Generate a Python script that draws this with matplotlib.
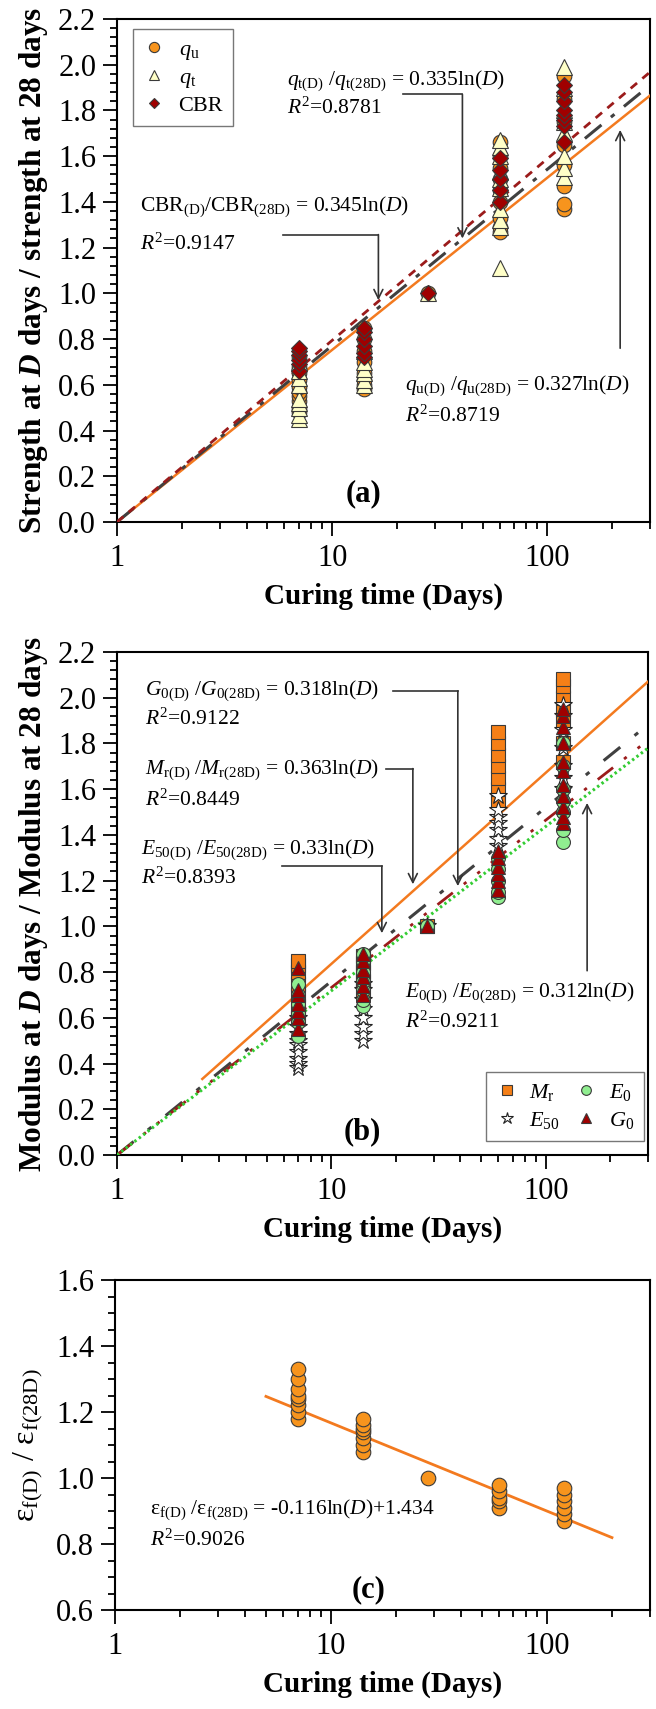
import numpy as np
import matplotlib.pyplot as plt
from matplotlib.ticker import FixedLocator, LogLocator, MultipleLocator, NullFormatter, FormatStrFormatter

plt.rcParams.update({
    'font.family': ['Liberation Serif', 'DejaVu Serif'],
    'mathtext.fontset': 'custom',
    'mathtext.rm': 'Liberation Serif',
    'mathtext.it': 'Liberation Serif:italic',
    'mathtext.bf': 'Liberation Serif:bold',
    'mathtext.bfit': 'Liberation Serif:italic:bold',
})

# ---- data ----
DAYS = [7, 14, 28, 60, 120]

# (a) strength ratios
qu = {7: [0.48, 0.50, 0.53, 0.55, 0.57, 0.59, 0.62, 0.65, 0.68, 0.72],
      14: [0.58, 0.60, 0.62, 0.65, 0.70, 0.75, 0.80, 0.85],
      28: [1.0],
      60: [1.27, 1.29, 1.33, 1.40, 1.45, 1.50, 1.55, 1.60, 1.66],
      120: [1.37, 1.39, 1.47, 1.56, 1.65, 1.75, 1.85, 1.95]}
qt = {7: [0.45, 0.47, 0.50, 0.52, 0.54, 0.60, 0.63, 0.66, 0.70],
      14: [0.60, 0.62, 0.65, 0.67, 0.70, 0.75],
      28: [1.0],
      60: [1.11, 1.29, 1.32, 1.37, 1.46, 1.50, 1.53, 1.60, 1.64, 1.67],
      120: [1.51, 1.55, 1.60, 1.70, 1.75, 1.80, 1.90, 1.99]}
cbr = {7: [0.66, 0.69, 0.71, 0.73, 0.75, 0.76],
       14: [0.72, 0.74, 0.77, 0.80, 0.83, 0.85],
       28: [1.0],
       60: [1.40, 1.45, 1.50, 1.54, 1.59],
       120: [1.66, 1.73, 1.76, 1.78, 1.80, 1.84, 1.88, 1.91]}

# (b) modulus ratios
mr = {7: [0.60, 0.65, 0.70, 0.75, 0.80, 0.83, 0.85],
      14: [0.72, 0.76, 0.80, 0.84, 0.87],
      28: [1.0],
      60: [1.55, 1.60, 1.65, 1.70, 1.75, 1.80, 1.85],
      120: [1.72, 1.80, 1.90, 1.95, 2.00, 2.05, 2.08]}
e50 = {7: [0.38, 0.40, 0.42, 0.45, 0.48, 0.50, 0.53, 0.56, 0.60],
       14: [0.50, 0.53, 0.56, 0.60, 0.64, 0.68, 0.72, 0.75],
       28: [1.0],
       60: [1.35, 1.38, 1.42, 1.45, 1.48, 1.51, 1.57],
       120: [1.60, 1.65, 1.70, 1.78, 1.86, 1.92, 1.97]}
e0 = {7: [0.52, 0.58, 0.62, 0.66, 0.70, 0.75],
      14: [0.65, 0.68, 0.72, 0.76, 0.80, 0.85, 0.88],
      28: [1.0],
      60: [1.13, 1.15, 1.20, 1.25, 1.30],
      120: [1.37, 1.42, 1.50, 1.55, 1.60, 1.70, 1.80]}
g0 = {7: [0.55, 0.60, 0.63, 0.66, 0.70, 0.72, 0.82],
      14: [0.70, 0.74, 0.78, 0.81, 0.85, 0.88],
      28: [1.0],
      60: [1.16, 1.20, 1.23, 1.26, 1.30, 1.33],
      120: [1.45, 1.48, 1.52, 1.57, 1.62, 1.68, 1.72, 1.80, 1.87, 1.92, 1.95]}

# (c) failure strain ratio
ef = {7: [1.18, 1.20, 1.22, 1.24, 1.25, 1.27, 1.30, 1.33],
      14: [1.08, 1.10, 1.12, 1.14, 1.15, 1.16, 1.18],
      28: [1.0],
      60: [0.91, 0.93, 0.94, 0.96, 0.98],
      120: [0.87, 0.89, 0.91, 0.93, 0.95, 0.97]}

# fitted slopes / ranges
K_QU, K_QT, K_CBR = 0.327, 0.335, 0.345
K_MR, K_E50, K_G0, K_E0 = 0.363, 0.33, 0.318, 0.312
EF_A, EF_B = -0.116, 1.434
FIT_A = (1, 300)
FIT_MR = (2.5, 300)
FIT_C = (5, 200)

ORANGE = '#F7941D'
ORANGE_LINE = '#F37A1F'
DARKRED = '#A00000'
EDGE = '#3a3a3a'
ARROW = '#333333'
TICK_FS = 22
NOTE_FS = 15.5
LEG_FS = 16


def flat(d):
    xs, ys = [], []
    for k in DAYS:
        xs += [k] * len(d[k])
        ys += d[k]
    return xs, ys


def style_axis(ax, ylo, yhi, minor):
    ax.set_xscale('log')
    ax.set_xlim(1, 300)
    ax.set_ylim(ylo, yhi)
    ax.xaxis.set_major_locator(FixedLocator([1, 10, 100]))
    ax.set_xticklabels(['1', '10', '100'])
    ax.xaxis.set_minor_locator(LogLocator(base=10, subs=np.arange(2, 10)))
    ax.xaxis.set_minor_formatter(NullFormatter())
    ax.yaxis.set_major_locator(MultipleLocator(0.2))
    ax.yaxis.set_minor_locator(MultipleLocator(minor))
    ax.yaxis.set_major_formatter(FormatStrFormatter('%.1f'))
    ax.tick_params(which='both', direction='out', top=False, right=False,
                   labelsize=TICK_FS, width=1.3)
    ax.tick_params(which='major', length=10)
    ax.tick_params(which='minor', length=5)
    ax.tick_params(axis='x', which='major', pad=6)
    ax.tick_params(axis='y', which='major', pad=5)
    for s in ax.spines.values():
        s.set_linewidth(1.5)
    ax.set_xlabel('Curing time (Days)', fontsize=21, fontweight='bold', labelpad=7)


def note(ax, x, y1, y2, eq, r2, fs=NOTE_FS):
    ax.text(x, y1, eq, ha='left', va='center', fontsize=fs)
    ax.text(x, y2, r2, ha='left', va='center', fontsize=fs)


def bent_arrow(ax, pts):
    xs = [p[0] for p in pts[:-1]]
    ys = [p[1] for p in pts[:-1]]
    if len(xs) > 1:
        ax.plot(xs, ys, color=ARROW, lw=1.2, zorder=5)
    ax.annotate('', xy=pts[-1], xytext=pts[-2],
                arrowprops=dict(arrowstyle='->', color=ARROW, lw=1.2,
                                shrinkA=0, shrinkB=0, mutation_scale=16), zorder=5)


fig = plt.figure(figsize=(6.56, 17.09), dpi=100)
W, H = 656, 1709
ax_a = fig.add_axes([117 / W, 1 - 522 / H, 533 / W, 503 / H])
ax_b = fig.add_axes([117 / W, 1 - 1155 / H, 531 / W, 503 / H])
ax_c = fig.add_axes([115 / W, 1 - 1610 / H, 535 / W, 330 / H])

# ---------- (a) ----------
ax = ax_a
d = np.geomspace(*FIT_A, 200)
ax.plot(d, K_QU * np.log(d), color=ORANGE_LINE, lw=1.8, zorder=3)
ax.plot(d, K_QT * np.log(d), color='#404040', lw=2.2, ls=(0, (7, 4, 1.5, 4)), zorder=3)
ax.plot(d, K_CBR * np.log(d), color='#9B1B1B', lw=2.0, ls=(0, (3, 2.5)), zorder=3)
x, y = flat(qu)
ax.plot(x, y, 'o', ms=10.5, mfc=ORANGE, mec=EDGE, mew=0.8, ls='none', zorder=4, label='$q_\\mathrm{u}$')
x, y = flat(qt)
ax.plot(x, y, '^', ms=11, mfc='#FFFFC8', mec=EDGE, mew=0.8, ls='none', zorder=4, label='$q_\\mathrm{t}$')
x, y = flat(cbr)
ax.plot(x, y, 'D', ms=8, mfc=DARKRED, mec=EDGE, mew=0.8, ls='none', zorder=4, label='CBR')
style_axis(ax, 0, 2.2, 0.04)
ax.set_ylabel(r'Strength at $\mathbfit{D}$ days / strength at 28 days',
              fontsize=22.5, fontweight='bold', labelpad=6)
ax.legend(loc='upper left', bbox_to_anchor=(0.03, 0.98), fontsize=LEG_FS, markerscale=0.7,
          frameon=True, fancybox=False, edgecolor='#555555', handletextpad=0.6,
          labelspacing=0.25, borderpad=0.45, handlelength=1.0, borderaxespad=0)
note(ax, 6.2, 1.93, 1.81, r'$q_{\mathrm{t(D)}}$ /$q_{\mathrm{t(28D)}}$ = 0.335ln($D$)', r'$R^2$=0.8781')
bent_arrow(ax, [(21.4, 1.87), (40.3, 1.87), (40.3, 1.24)])
note(ax, 1.28, 1.378, 1.213, r'CBR$_{\mathrm{(D)}}$/CBR$_{\mathrm{(28D)}}$ = 0.345ln($D$)', r'$R^2$=0.9147')
bent_arrow(ax, [(5.93, 1.257), (16.4, 1.257), (16.4, 0.97)])
note(ax, 21.9, 0.595, 0.462, r'$q_{\mathrm{u(D)}}$ /$q_{\mathrm{u(28D)}}$ = 0.327ln($D$)', r'$R^2$=0.8719')
bent_arrow(ax, [(218, 0.76), (218, 1.715)])
ax.text(14, 0.125, '(a)', ha='center', va='center', fontsize=22, fontweight='bold')

# ---------- (b) ----------
ax = ax_b
d = np.geomspace(*FIT_MR, 200)
ax.plot(d, K_MR * np.log(d), color=ORANGE_LINE, lw=1.8, zorder=3)
d = np.geomspace(*FIT_A, 200)
ax.plot(d, K_E50 * np.log(d), color='#404040', lw=2.2, ls=(0, (7, 6, 1.5, 6)), zorder=3)
ax.plot(d, K_G0 * np.log(d), color='#9B1B1B', lw=2.0, ls=(0, (7, 5, 1.2, 5, 1.2, 5)), zorder=3)
ax.plot(d, K_E0 * np.log(d), color='#33CC33', lw=2.2, ls=(0, (0.8, 1.0)), zorder=3)
x, y = flat(mr)
h_mr, = ax.plot(x, y, 's', ms=9.5, mfc='#F57F17', mec=EDGE, mew=0.8, ls='none', zorder=4, label='$M_\\mathrm{r}$')
x, y = flat(e50)
h_e50, = ax.plot(x, y, '*', ms=13, mfc='white', mec='#222222', mew=0.8, ls='none', zorder=4, label='$E_{50}$')
x, y = flat(e0)
h_e0, = ax.plot(x, y, 'o', ms=10, mfc='#90EE90', mec=EDGE, mew=0.8, ls='none', zorder=4, label='$E_0$')
x, y = flat(g0)
h_g0, = ax.plot(x, y, '^', ms=9.5, mfc=DARKRED, mec=EDGE, mew=0.8, ls='none', zorder=4, label='$G_0$')
style_axis(ax, 0, 2.2, 0.04)
ax.set_ylabel(r'Modulus at $\mathbfit{D}$ days / Modulus at 28 days',
              fontsize=22.5, fontweight='bold', labelpad=6)
ax.legend(handles=[h_mr, h_e50, h_e0, h_g0], ncol=2, loc='lower right',
          bbox_to_anchor=(0.992, 0.028), fontsize=LEG_FS, markerscale=0.7,
          frameon=True, fancybox=False, edgecolor='#555555', handletextpad=0.5,
          labelspacing=0.3, borderpad=0.45, handlelength=1.0, columnspacing=0.7,
          borderaxespad=0)
note(ax, 1.35, 2.033, 1.906, r'$G_{0\mathrm{(D)}}$ /$G_{0\mathrm{(28D)}}$ = 0.318ln($D$)', r'$R^2$=0.9122')
bent_arrow(ax, [(19.3, 2.03), (38.9, 2.03), (38.9, 1.176)])
note(ax, 1.35, 1.684, 1.55, r'$M_{\mathrm{r(D)}}$ /$M_{\mathrm{r(28D)}}$ = 0.363ln($D$)', r'$R^2$=0.8449')
bent_arrow(ax, [(18.0, 1.69), (24.0, 1.69), (24.0, 1.184)])
note(ax, 1.3, 1.335, 1.21, r'$E_{50\mathrm{(D)}}$ /$E_{50\mathrm{(28D)}}$ = 0.33ln($D$)', r'$R^2$=0.8393')
bent_arrow(ax, [(5.9, 1.264), (17.2, 1.264), (17.2, 0.97)])
note(ax, 22, 0.71, 0.581, r'$E_{0\mathrm{(D)}}$ /$E_{0\mathrm{(28D)}}$ = 0.312ln($D$)', r'$R^2$=0.9211')
bent_arrow(ax, [(156, 0.806), (156, 1.54)])
ax.text(14, 0.1, '(b)', ha='center', va='center', fontsize=22, fontweight='bold')

# ---------- (c) ----------
ax = ax_c
d = np.geomspace(*FIT_C, 200)
ax.plot(d, EF_A * np.log(d) + EF_B, color=ORANGE_LINE, lw=2.0, zorder=3)
x, y = flat(ef)
ax.plot(x, y, 'o', ms=10.5, mfc=ORANGE, mec=EDGE, mew=0.8, ls='none', zorder=4)
style_axis(ax, 0.6, 1.6, 0.05)
ax.set_ylabel(r'$\mathrm{ε}_{\mathrm{f(D)}}$ / $\mathrm{ε}_{\mathrm{f(28D)}}$', fontsize=23, labelpad=8)
note(ax, 1.45, 0.904, 0.81, r'$\mathrm{ε}_{\mathrm{f(D)}}$ /$\mathrm{ε}_{\mathrm{f(28D)}}$ = -0.116ln($D$)+1.434',
     r'$R^2$=0.9026')
ax.text(14.9, 0.66, '(c)', ha='center', va='center', fontsize=22, fontweight='bold')

fig.savefig('out.png', dpi=100)
